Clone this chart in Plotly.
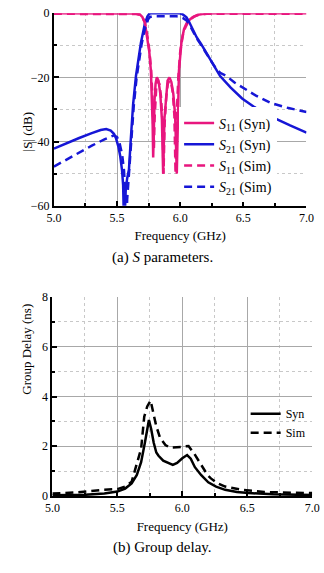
import plotly.graph_objects as go

# ---------------- data: S parameters ----------------
f_s21_syn = [5.0, 5.1, 5.2, 5.3, 5.37, 5.414, 5.45, 5.475, 5.49, 5.51, 5.525, 5.539, 5.548, 5.556,
             5.563, 5.569, 5.58, 5.594, 5.61, 5.627, 5.65, 5.67, 5.689, 5.72, 5.74, 5.755, 5.77,
             5.98, 5.99, 6.02, 6.05, 6.07, 6.1, 6.13, 6.165, 6.22, 6.27, 6.316, 6.4, 6.49, 6.6,
             6.742, 6.87, 7.0]
s21_syn = [-42.2, -40.5, -38.9, -37.4, -36.4, -36.1, -36.6, -37.6, -38.8, -41.5, -44.5, -48.8, -53.5, -68,
           -58, -54.8, -51.5, -48.8, -38.5, -28.5, -19.5, -13.5, -9.2, -3.3, -1.1, -0.2, 0.0,
           0.0, 0.0, -0.4, -1.3, -2.7, -5.2, -7.5, -9.6, -13.3, -16.8, -19.6, -23.2, -26.6, -29.6,
           -32.6, -35.0, -37.2]

f_s21_sim = [5.0, 5.1, 5.2, 5.3, 5.4, 5.45, 5.476, 5.5, 5.52, 5.54, 5.555, 5.565, 5.572, 5.58, 5.59,
             5.6, 5.615, 5.632, 5.655, 5.675, 5.695, 5.72, 5.745, 5.76, 5.78, 5.97, 5.99, 6.02, 6.05,
             6.07, 6.1, 6.13, 6.165, 6.22, 6.27, 6.316, 6.366, 6.43, 6.5, 6.6, 6.717, 6.85, 7.0]
s21_sim = [-47.8, -45.6, -43.4, -41.3, -39.3, -38.4, -38.1, -38.6, -40.5, -44.0, -49.0, -56.0, -68.0, -58.0, -52.0,
           -48.0, -39.0, -29.0, -20.0, -14.0, -9.5, -5.0, -2.0, -1.2, -1.0, -1.0, -1.1, -1.5, -2.3,
           -3.3, -5.6, -7.8, -9.9, -13.4, -16.5, -18.6, -19.6, -21.6, -23.2, -25.7, -28.0, -29.5, -30.8]

f_s11_syn = [5.0, 5.6, 5.65, 5.68, 5.7, 5.72, 5.74, 5.755, 5.768, 5.776, 5.782, 5.786, 5.79, 5.797,
             5.805, 5.815, 5.828, 5.842, 5.855, 5.865, 5.875, 5.888, 5.9, 5.915, 5.93, 5.945, 5.96,
             5.973, 5.98, 5.99, 6.01, 6.03, 6.05, 6.07, 6.1, 6.14, 6.2, 6.3, 7.0]
s11_syn = [0.0, 0.0, -0.1, -0.4, -1.2, -3.0, -7.5, -12.0, -18.0, -25.0, -35.0, -45.0, -35.0, -27.0,
           -22.0, -20.0, -21.0, -25.0, -33.0, -50.0, -33.0, -25.0, -21.0, -20.0, -21.5, -25.0, -32.0,
           -50.0, -30.0, -18.0, -9.0, -5.0, -3.2, -2.2, -1.2, -0.5, -0.1, 0.0, 0.0]

f_s11_sim = [5.0, 5.6, 5.65, 5.68, 5.7, 5.72, 5.74, 5.757, 5.77, 5.779, 5.786, 5.792, 5.797, 5.804,
             5.812, 5.822, 5.835, 5.848, 5.86, 5.868, 5.877, 5.89, 5.902, 5.915, 5.93, 5.942, 5.954,
             5.963, 5.972, 5.985, 6.0, 6.02, 6.04, 6.06, 6.08, 6.11, 6.15, 6.21, 6.3, 7.0]
s11_sim = [-0.2, -0.2, -0.3, -0.5, -1.2, -2.8, -7.0, -12.0, -18.0, -25.0, -33.0, -42.0, -33.0, -26.0,
           -22.0, -21.0, -22.0, -26.0, -34.0, -50.0, -34.0, -26.0, -22.0, -21.0, -22.0, -25.0, -32.0,
           -50.0, -32.0, -20.0, -12.0, -7.0, -4.5, -3.0, -2.0, -1.1, -0.5, -0.2, -0.2, -0.2]

# ---------------- data: group delay ----------------
f_gd_syn = [5.0, 5.25, 5.4, 5.5, 5.56, 5.61, 5.65, 5.683, 5.712, 5.73, 5.743, 5.76, 5.78, 5.8,
            5.817, 5.853, 5.902, 5.927, 5.96, 6.0, 6.037, 6.065, 6.097, 6.146, 6.2, 6.26, 6.33,
            6.42, 6.51, 6.7, 7.0]
gd_syn = [0.03, 0.05, 0.10, 0.18, 0.30, 0.51, 0.85, 1.36, 2.14, 2.75, 3.06, 2.7, 2.14, 1.75,
          1.62, 1.42, 1.32, 1.25, 1.33, 1.52, 1.65, 1.5, 1.16, 0.84, 0.55, 0.38, 0.25,
          0.16, 0.12, 0.07, 0.04]

f_gd_sim = [5.0, 5.2, 5.39, 5.5, 5.56, 5.61, 5.646, 5.683, 5.707, 5.73, 5.756, 5.775, 5.8, 5.829,
            5.87, 5.905, 5.939, 5.99, 6.02, 6.048, 6.09, 6.134, 6.195, 6.22, 6.27, 6.33, 6.46,
            6.63, 6.8, 7.0]
gd_sim = [0.10, 0.15, 0.25, 0.28, 0.38, 0.57, 1.23, 1.9, 3.19, 3.6, 3.84, 3.4, 2.8, 2.34,
          2.05, 1.95, 1.95, 1.97, 2.0, 2.01, 1.72, 1.36, 0.84, 0.71, 0.52, 0.38, 0.25,
          0.16, 0.13, 0.12]

x_ticks = [5.0, 5.5, 6.0, 6.5, 7.0]
x_ticktext = ["5.0", "5.5", "6.0", "6.5", "7.0"]
y1_ticks = [-60, -40, -20, 0]
y2_ticks = [0, 2, 4, 6, 8]

PINK = "#E8167E"
BLUE = "#1616D6"
FONT = "Liberation Serif"
W, H = 324, 573

fig = go.Figure()
fig.add_trace(go.Scatter(x=f_s11_syn, y=s11_syn, mode="lines", name="<i>S</i><sub>11</sub> (Syn)",
                         line=dict(color=PINK, width=2.5), xaxis="x", yaxis="y", legend="legend"))
fig.add_trace(go.Scatter(x=f_s21_syn, y=s21_syn, mode="lines", name="<i>S</i><sub>21</sub> (Syn)",
                         line=dict(color=BLUE, width=2.5), xaxis="x", yaxis="y", legend="legend"))
fig.add_trace(go.Scatter(x=f_s11_sim, y=s11_sim, mode="lines", name="<i>S</i><sub>11</sub> (Sim)",
                         line=dict(color=PINK, width=2.5, dash="8px,5px"), xaxis="x", yaxis="y", legend="legend"))
fig.add_trace(go.Scatter(x=f_s21_sim, y=s21_sim, mode="lines", name="<i>S</i><sub>21</sub> (Sim)",
                         line=dict(color=BLUE, width=2.5, dash="8px,5px"), xaxis="x", yaxis="y", legend="legend"))
fig.add_trace(go.Scatter(x=f_gd_syn, y=gd_syn, mode="lines", name="Syn",
                         line=dict(color="black", width=2.5), xaxis="x2", yaxis="y2", legend="legend2"))
fig.add_trace(go.Scatter(x=f_gd_sim, y=gd_sim, mode="lines", name="Sim",
                         line=dict(color="black", width=2.5, dash="8px,5px"), xaxis="x2", yaxis="y2", legend="legend2"))

def px_x(p):
    return p / W

def px_y(p):
    return 1 - p / H

common_x = dict(range=[5, 7], tickvals=x_ticks, ticktext=x_ticktext, showgrid=True, gridcolor="#A8A8A8",
                gridwidth=1, showline=True, linecolor="black", linewidth=2, ticks="inside", ticklen=5,
                tickcolor="black", tickwidth=1.5, zeroline=False,
                tickfont=dict(family=FONT, size=12, color="black"),
                minor=dict(dtick=0.25, tick0=5.0, showgrid=True, griddash="dot", gridcolor="#C8C8C8",
                           ticks="inside", ticklen=3, tickcolor="black"),
                title=dict(text="Frequency (GHz)", font=dict(family=FONT, size=13, color="black"), standoff=7))
common_y = dict(showgrid=True, gridcolor="#A8A8A8", gridwidth=1, showline=True, linecolor="black", linewidth=2,
                ticks="inside", ticklen=5, tickcolor="black", tickwidth=1.5, zeroline=False,
                tickfont=dict(family=FONT, size=12, color="black"))

fig.update_layout(
    width=W, height=H, margin=dict(l=0, r=0, t=0, b=0),
    paper_bgcolor="white", plot_bgcolor="white",
    font=dict(family=FONT, size=12, color="black"),
    xaxis=dict(domain=[px_x(48.3), px_x(314)], anchor="y", **common_x),
    yaxis=dict(domain=[px_y(203.7), px_y(6.3)], anchor="x", range=[-60, 0], tickvals=y1_ticks,
               minor=dict(dtick=10, tick0=0, showgrid=True, griddash="dot", gridcolor="#C8C8C8",
                          ticks="inside", ticklen=3, tickcolor="black"),
               **common_y),
    xaxis2=dict(domain=[px_x(46.7), px_x(320)], anchor="y2", **common_x),
    yaxis2=dict(domain=[px_y(501.3), px_y(297.3)], anchor="x2", range=[0, 8], tickvals=y2_ticks,
                minor=dict(dtick=1, tick0=0, showgrid=True, griddash="dot", gridcolor="#C8C8C8",
                           ticks="inside", ticklen=3, tickcolor="black"),
                **common_y),
    legend=dict(x=px_x(180), y=px_y(103), xanchor="left", yanchor="top", bgcolor="white",
                font=dict(family=FONT, size=14, color="black"), tracegroupgap=0),
    legend2=dict(x=px_x(250), y=px_y(402), xanchor="left", yanchor="top", bgcolor="rgba(255,255,255,0)",
                 font=dict(family=FONT, size=12, color="black")),
    showlegend=True,
    annotations=[
        dict(text="|S| (dB)", x=px_x(10), y=px_y(105), xref="paper", yref="paper", showarrow=False,
             textangle=-90, font=dict(family=FONT, size=13, color="black")),
        dict(text="Group Delay (ns)", x=px_x(10), y=px_y(400), xref="paper", yref="paper", showarrow=False,
             textangle=-90, font=dict(family=FONT, size=13, color="black")),
        dict(text="(a) <i>S</i> parameters.", x=px_x(162), y=px_y(257), xref="paper", yref="paper",
             showarrow=False, font=dict(family=FONT, size=15, color="black")),
        dict(text="(b) Group delay.", x=px_x(162), y=px_y(565), xref="paper", yref="paper",
             showarrow=False, font=dict(family=FONT, size=15, color="black")),
    ],
)

fig.write_html("out.html")
